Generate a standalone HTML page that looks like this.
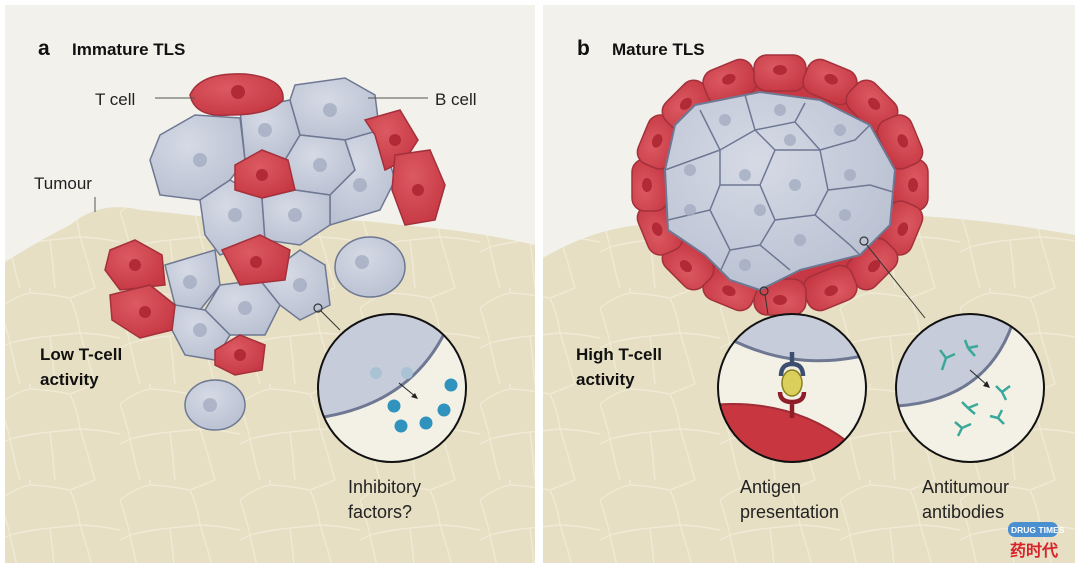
<!DOCTYPE html>
<html><head><meta charset="utf-8"><style>
html,body{margin:0;padding:0;background:#fff;}
svg{display:block}
text{font-family:"Liberation Sans",sans-serif;}
</style></head><body>
<svg width="1080" height="570" viewBox="0 0 1080 570" xmlns="http://www.w3.org/2000/svg">
<defs>
<pattern id="tum" width="120" height="96" patternUnits="userSpaceOnUse">
<rect width="120" height="96" fill="#e6dfc3"/>
<path d="M0 20 Q15 8 30 5 Q50 6 70 10 L95 0 M70 10 Q78 28 80 45 Q100 46 120 50 M0 20 Q6 38 10 55 L0 60 M10 55 Q30 50 50 48 L80 45 M50 48 Q53 72 55 96 M80 45 Q88 70 95 96 M10 55 Q14 76 20 96 M30 5 L30 0" fill="none" stroke="#f0ead6" stroke-width="1.4"/>
</pattern>
<radialGradient id="gc" cx="0.4" cy="0.35" r="0.7"><stop offset="0" stop-color="#d5dae5"/><stop offset="1" stop-color="#b9c0d1"/></radialGradient>
<radialGradient id="rc" cx="0.4" cy="0.35" r="0.7"><stop offset="0" stop-color="#dc5a62"/><stop offset="1" stop-color="#c63843"/></radialGradient>
<clipPath id="c1"><circle cx="392" cy="388" r="74"/></clipPath>
<clipPath id="c2"><circle cx="792" cy="388" r="74"/></clipPath>
<clipPath id="c3"><circle cx="970" cy="388" r="74"/></clipPath>
<g id="rcell"><rect x="-26" y="-18" width="52" height="36" rx="13" fill="url(#rc)" stroke="#a3303a" stroke-width="1.5"/><ellipse cx="0" cy="-3" rx="7" ry="5" fill="#b12a35"/></g>
</defs>
<rect x="5" y="5" width="530" height="558" fill="#f2f1ec"/>
<rect x="543" y="5" width="532" height="558" fill="#f2f1ec"/>
<!-- tumour -->
<path d="M5 262 Q40 240 70 225 Q100 200 140 210 Q200 215 260 225 Q330 215 400 225 Q470 230 535 245 L535 563 L5 563Z" fill="url(#tum)"/>
<path d="M543 258 Q590 230 640 225 Q700 218 760 218 Q840 212 900 215 Q980 218 1075 235 L1075 563 L543 563Z" fill="url(#tum)"/>

<!-- left cluster gray -->
<g fill="url(#gc)" stroke="#6e7893" stroke-width="1.5">
<path d="M160 135 L195 115 L240 118 L245 160 L230 180 L200 200 L160 195 L150 160Z"/>
<path d="M240 110 L290 100 L300 135 L285 160 L245 160Z"/>
<path d="M295 85 L345 78 L375 95 L380 135 L345 140 L300 135 L290 100Z"/>
<path d="M285 160 L300 135 L345 140 L355 170 L330 195 L295 190Z"/>
<path d="M345 140 L380 130 L395 180 L380 210 L330 225 L330 195 L355 170Z"/>
<path d="M200 200 L230 180 L262 198 L265 240 L220 255 L205 235Z"/>
<path d="M262 198 L295 190 L330 195 L330 225 L300 245 L265 240Z"/>
<path d="M165 265 L215 250 L220 285 L200 310 L175 305Z"/>
<path d="M220 285 L260 280 L280 305 L265 335 L230 335 L205 310Z"/>
<path d="M260 280 L300 250 L325 265 L330 305 L300 320 L280 305Z"/>
<path d="M175 305 L205 310 L230 335 L215 360 L185 355 L172 330Z"/>
<ellipse cx="370" cy="267" rx="35" ry="30"/>
<ellipse cx="215" cy="405" rx="30" ry="25"/>
</g>
<!-- left cluster red -->
<g fill="url(#rc)" stroke="#a3303a" stroke-width="1.5">
<path d="M190 95 Q200 72 245 74 Q285 78 283 100 Q270 115 230 115 Q195 118 190 95Z"/>
<path d="M235 165 L262 150 L288 160 L295 190 L262 198 L235 190Z"/>
<path d="M365 120 L400 110 L418 140 L405 160 L385 170 L375 135Z"/>
<path d="M395 155 L430 150 L445 185 L435 220 L405 225 L392 190Z"/>
<path d="M222 250 L260 235 L290 250 L285 280 L240 285Z"/>
<path d="M110 250 L135 240 L162 255 L165 285 L120 290 L105 270Z"/>
<path d="M110 295 L150 285 L175 305 L172 330 L140 338 L112 320Z"/>
<path d="M215 350 L240 335 L265 345 L262 370 L235 375 L215 365Z"/>
</g>
<g fill="#a5adc2" opacity="0.8"><circle cx="200" cy="160" r="7"/><circle cx="265" cy="130" r="7"/><circle cx="330" cy="110" r="7"/><circle cx="320" cy="165" r="7"/><circle cx="360" cy="185" r="7"/><circle cx="235" cy="215" r="7"/><circle cx="295" cy="215" r="7"/><circle cx="190" cy="282" r="7"/><circle cx="245" cy="308" r="7"/><circle cx="300" cy="285" r="7"/><circle cx="200" cy="330" r="7"/><circle cx="362" cy="262" r="7"/><circle cx="210" cy="405" r="7"/></g>
<g fill="#b12a35"><circle cx="238" cy="92" r="7"/><circle cx="262" cy="175" r="6"/><circle cx="395" cy="140" r="6"/><circle cx="418" cy="190" r="6"/><circle cx="256" cy="262" r="6"/><circle cx="135" cy="265" r="6"/><circle cx="145" cy="312" r="6"/><circle cx="240" cy="355" r="6"/></g>

<!-- left magnifier -->
<line x1="321" y1="311" x2="340" y2="330" stroke="#333" stroke-width="1"/>
<circle cx="318" cy="308" r="4" fill="none" stroke="#333" stroke-width="1.2"/>
<circle cx="392" cy="388" r="74" fill="#f3f1e6"/>
<g clip-path="url(#c1)">
<path d="M300 300 L450 300 L446 330 Q410 405 317 418 L300 418Z" fill="#c6ccd9" stroke="#6e7893" stroke-width="3"/>
<circle cx="376" cy="373" r="6" fill="#a9c3d4"/><circle cx="407" cy="373" r="6" fill="#a9c3d4"/>
<g fill="#2f93bd"><circle cx="394" cy="406" r="6.5"/><circle cx="451" cy="385" r="6.5"/><circle cx="444" cy="410" r="6.5"/><circle cx="426" cy="423" r="6.5"/><circle cx="401" cy="426" r="6.5"/></g>
<line x1="399" y1="383" x2="416" y2="397" stroke="#222" stroke-width="1"/>
<path d="M418 399 L411 397 L415 393Z" fill="#222"/>
</g>
<circle cx="392" cy="388" r="74" fill="none" stroke="#111" stroke-width="2"/>

<!-- right cluster: red ring cells -->
<ellipse cx="780" cy="185" rx="128" ry="110" fill="#c63843"/>
<use href="#rcell" transform="translate(910,185) rotate(90)"/>
<use href="#rcell" transform="translate(900,228) rotate(112.5)"/>
<use href="#rcell" transform="translate(872,264) rotate(135)"/>
<use href="#rcell" transform="translate(830,288) rotate(157.5)"/>
<use href="#rcell" transform="translate(780,297) rotate(180)"/>
<use href="#rcell" transform="translate(730,288) rotate(202.5)"/>
<use href="#rcell" transform="translate(688,264) rotate(225)"/>
<use href="#rcell" transform="translate(660,228) rotate(247.5)"/>
<use href="#rcell" transform="translate(650,185) rotate(270)"/>
<use href="#rcell" transform="translate(660,142) rotate(292.5)"/>
<use href="#rcell" transform="translate(688,106) rotate(315)"/>
<use href="#rcell" transform="translate(730,82) rotate(337.5)"/>
<use href="#rcell" transform="translate(780,73) rotate(0)"/>
<use href="#rcell" transform="translate(830,82) rotate(22.5)"/>
<use href="#rcell" transform="translate(872,106) rotate(45)"/>
<use href="#rcell" transform="translate(900,142) rotate(67.5)"/>
<path d="M695 105 L760 92 L820 100 L870 125 L895 170 L890 225 L860 255 L800 270 L760 290 L730 280 L705 255 L668 230 L665 170 L675 125Z" fill="url(#gc)" stroke="#6e7893" stroke-width="2" stroke-linejoin="round"/>
<g fill="none" stroke="#6e7893" stroke-width="1.5">
<path d="M745 95 L755 130 L720 150 L700 110"/><path d="M755 130 L795 122 L805 103"/><path d="M795 122 L820 150 L855 140 L870 125"/><path d="M820 150 L828 190 L870 185 L893 192"/><path d="M828 190 L815 215 L850 245 L860 255"/><path d="M815 215 L775 220 L760 245 L790 270"/><path d="M775 220 L760 185 L720 185 L710 210 L668 220"/><path d="M760 185 L775 150 L755 130 M775 150 L820 150 M720 150 L720 185 M665 170 L720 150 M710 210 L730 250 L760 245 M730 250 L720 272"/>
</g>
<g fill="#a5adc2" opacity="0.8"><circle cx="725" cy="120" r="6"/><circle cx="780" cy="110" r="6"/><circle cx="790" cy="140" r="6"/><circle cx="840" cy="130" r="6"/><circle cx="690" cy="170" r="6"/><circle cx="745" cy="175" r="6"/><circle cx="795" cy="185" r="6"/><circle cx="850" cy="175" r="6"/><circle cx="690" cy="210" r="6"/><circle cx="760" cy="210" r="6"/><circle cx="800" cy="240" r="6"/><circle cx="845" cy="215" r="6"/><circle cx="745" cy="265" r="6"/></g>

<!-- right magnifiers -->
<line x1="765" y1="295" x2="768" y2="314" stroke="#333" stroke-width="1"/>
<circle cx="764" cy="291" r="4" fill="none" stroke="#333" stroke-width="1.2"/>
<line x1="866" y1="244" x2="925" y2="318" stroke="#333" stroke-width="1"/>
<circle cx="864" cy="241" r="4" fill="none" stroke="#333" stroke-width="1.2"/>
<circle cx="792" cy="388" r="74" fill="#f3f1e6"/>
<g clip-path="url(#c2)">
<path d="M710 300 L880 300 L880 357 L857 357 Q790 370 728 338 L710 338Z" fill="#c6ccd9" stroke="#6e7893" stroke-width="3"/>
<path d="M712 405 Q790 398 848 442 L880 470 L710 470Z" fill="#c8363f" stroke="#a02c36" stroke-width="2"/>
<path d="M792 352 L792 366 M781 376 Q781 364 792 364 Q803 364 803 376" fill="none" stroke="#3d4f70" stroke-width="4.5"/>
<ellipse cx="792" cy="383" rx="10" ry="13" fill="#d9cf5a" stroke="#8a7e20" stroke-width="1.5"/>
<path d="M780 392 Q780 402 792 402 Q804 402 804 392 M792 402 L792 418" fill="none" stroke="#8e1f28" stroke-width="4.5"/>
</g>
<circle cx="792" cy="388" r="74" fill="none" stroke="#111" stroke-width="2"/>
<circle cx="970" cy="388" r="74" fill="#f3f1e6"/>
<g clip-path="url(#c3)">
<path d="M890 300 L1050 300 L1012 325 Q985 400 897 406 L890 406Z" fill="#c6ccd9" stroke="#6e7893" stroke-width="3"/>
<g stroke="#3aa89a" stroke-width="2.5" fill="none">
<path d="M942 370 L946 358 M946 358 L940 350 M946 358 L955 354"/>
<path d="M975 356 L968 348 M968 348 L965 340 M968 348 L978 346"/>
<path d="M1006 400 L1002 392 M1002 392 L996 386 M1002 392 L1010 386"/>
<path d="M975 414 L968 408 M968 408 L962 402 M968 408 L978 404"/>
<path d="M1004 424 L998 418 M998 418 L990 416 M998 418 L1002 410"/>
<path d="M958 436 L962 428 M962 428 L955 422 M962 428 L971 424"/>
</g>
<line x1="970" y1="370" x2="987" y2="385" stroke="#222" stroke-width="1"/>
<path d="M990 388 L983 386 L987 381Z" fill="#222"/>
</g>
<circle cx="970" cy="388" r="74" fill="none" stroke="#111" stroke-width="2"/>

<!-- labels -->
<text x="38" y="55" font-size="21" font-weight="bold" fill="#111">a</text>
<text x="72" y="55" font-size="17" font-weight="bold" fill="#111">Immature TLS</text>
<text x="577" y="55" font-size="21" font-weight="bold" fill="#111">b</text>
<text x="612" y="55" font-size="17" font-weight="bold" fill="#111">Mature TLS</text>
<text x="95" y="105" font-size="17" fill="#222">T cell</text>
<line x1="155" y1="98" x2="195" y2="98" stroke="#555"/>
<text x="435" y="105" font-size="17" fill="#222">B cell</text>
<line x1="368" y1="98" x2="428" y2="98" stroke="#555"/>
<text x="34" y="189" font-size="17" fill="#222">Tumour</text>
<line x1="95" y1="197" x2="95" y2="212" stroke="#555"/>
<text x="40" y="360" font-size="17" font-weight="bold" fill="#111">Low T-cell</text>
<text x="40" y="385" font-size="17" font-weight="bold" fill="#111">activity</text>
<text x="576" y="360" font-size="17" font-weight="bold" fill="#111">High T-cell</text>
<text x="576" y="385" font-size="17" font-weight="bold" fill="#111">activity</text>
<text x="348" y="493" font-size="18" fill="#222">Inhibitory</text>
<text x="348" y="518" font-size="18" fill="#222">factors?</text>
<text x="740" y="493" font-size="18" fill="#222">Antigen</text>
<text x="740" y="518" font-size="18" fill="#222">presentation</text>
<text x="922" y="493" font-size="18" fill="#222">Antitumour</text>
<text x="922" y="518" font-size="18" fill="#222">antibodies</text>
<rect x="1008" y="522" width="50" height="15" rx="7" fill="#4a8fd0"/>
<text x="1011" y="533" font-size="8.5" font-weight="bold" fill="#fff">DRUG TIMES</text>
<text x="1010" y="556" font-size="16" font-weight="bold" fill="#d8232a" font-family="'Liberation Sans','Noto Sans CJK SC',sans-serif">药时代</text>
</svg>
</body></html>
